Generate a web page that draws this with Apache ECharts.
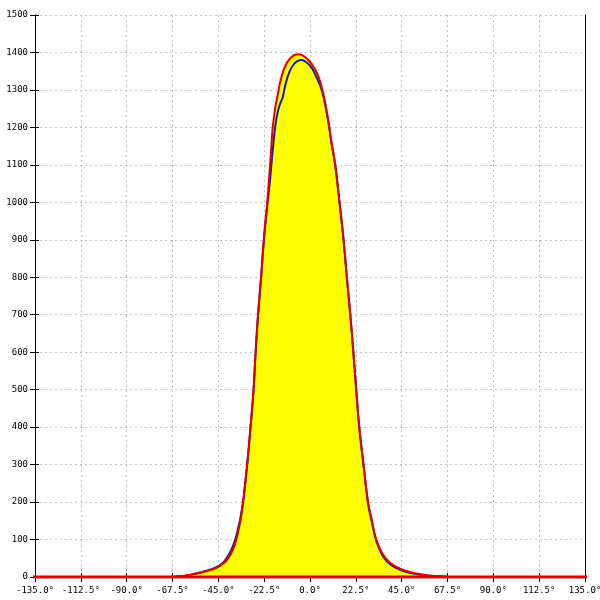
<!DOCTYPE html>
<html>
<head>
<meta charset="utf-8">
<script src="https://cdn.jsdelivr.net/npm/echarts@6/dist/echarts.min.js"></script>
<style>html,body{margin:0;padding:0;background:#fff}#c{width:600px;height:600px}</style>
</head>
<body>
<div id="c"></div>
<script>
// Red curve (upper, with yellow fill under it)
var redDeg = [-152, -70, -66, -62, -58, -54, -50, -46, -43, -41, -39, -37, -35.5, -34, -32.8, -30.8, -29.2, -27.7, -26.7, -25.5, -24, -22.7, -21, -20, -19.2, -18.3, -17, -15.9, -14.6, -12.6, -9.8, -6, -2.7, 0.6, 3.8, 6.3, 8.8, 10.4, 12.4, 14.5, 16.5, 18.1, 19.8, 21.3, 22.7, 24.2, 26.3, 28.5, 30.4, 32.5, 35.5, 39.3, 44.2, 50.7, 57.3, 63.9, 68, 152];
var redVal = [0, 0, 1, 3, 7, 11, 17, 24, 34, 44, 60, 85, 115, 155, 200, 300, 400, 500, 600, 700, 800, 900, 1000, 1070, 1130, 1200, 1255, 1285, 1322, 1358, 1384, 1395, 1389, 1371, 1340, 1295, 1225, 1166, 1100, 1000, 900, 800, 700, 600, 500, 400, 300, 200, 150, 100, 63, 38, 22, 11, 5, 2, 0, 0];
// Blue curve
var blueDeg = [-70, -66, -62, -58, -54, -50, -46, -43, -41, -39, -37, -35.5, -34, -32.8, -30.8, -29.2, -27.7, -26.7, -25.5, -24, -22.7, -21, -19.6, -18.6, -17.1, -15.9, -14.5, -13.4, -12.1, -10.1, -7.6, -4.3, -0.2, 3.1, 6.0, 8.8, 10.4, 12.4, 14.5, 16.5, 18.1, 19.8, 21.3, 22.7, 24.2, 26.3, 28.5, 30.4, 32.5, 35.5, 39.3, 44.2, 50.7, 57.3, 63.9, 68];
var blueVal = [0, 1, 3, 7, 12, 18, 26, 37, 50, 68, 95, 125, 162, 205, 305, 400, 500, 600, 700, 800, 895, 990, 1060, 1122, 1200, 1240, 1265, 1280, 1313, 1348, 1371, 1380, 1366, 1335, 1295, 1220, 1163, 1098, 998, 898, 798, 698, 598, 498, 398, 297, 196, 146, 97, 58, 34, 19, 9, 4, 2, 0];
// Axis ticks
var xTicks = [-135, -112.5, -90, -67.5, -45, -22.5, 0, 22.5, 45, 67.5, 90, 112.5, 135];
var yTicks = [0, 100, 200, 300, 400, 500, 600, 700, 800, 900, 1000, 1100, 1200, 1300, 1400, 1500];

function pairs(xs, ys) { return xs.map(function (x, i) { return [x, ys[i]]; }); }

var font = { fontFamily: 'DejaVu Sans Mono', fontSize: 9, color: '#000' };
var gridLine = { show: true, lineStyle: { color: '#c0c0c0', type: [2, 3], width: 1 } };
var xMin = xTicks[0], xMax = xTicks[xTicks.length - 1], xStep = xTicks[1] - xTicks[0];
var yMin = yTicks[0], yMax = yTicks[yTicks.length - 1], yStep = yTicks[1] - yTicks[0];

var chart = echarts.init(document.getElementById('c'), null, { renderer: 'canvas' });
chart.setOption({
  animation: false,
  backgroundColor: '#fff',
  grid: { left: 35, right: 15, top: 15, bottom: 23, containLabel: false, outerBoundsMode: 'none' },
  xAxis: [{
    type: 'value', min: xMin, max: xMax, interval: xStep,
    axisLine: { show: true, onZero: false, lineStyle: { color: '#000', width: 1 } },
    axisTick: { show: true, length: 5, inside: false, lineStyle: { color: '#000' } },
    axisLabel: Object.assign({ margin: 9, showMinLabel: true, showMaxLabel: true, hideOverlap: false,
      formatter: function (v) { return v.toFixed(1) + '°'; } }, font),
    splitLine: gridLine
  }, {
    type: 'value', min: xMin, max: xMax, interval: xStep, position: 'bottom',
    axisLine: { show: false, onZero: false },
    axisTick: { show: true, length: 4, inside: true, lineStyle: { color: '#000' } },
    axisLabel: { show: false }, splitLine: { show: false }
  }],
  yAxis: [{
    type: 'value', min: yMin, max: yMax, interval: yStep,
    axisLine: { show: true, onZero: false, lineStyle: { color: '#000', width: 1 } },
    axisTick: { show: true, length: 5, inside: false, lineStyle: { color: '#000' } },
    axisLabel: Object.assign({ margin: 7, formatter: function (v) { return String(v); } }, font),
    splitLine: gridLine
  }, {
    type: 'value', min: yMin, max: yMax, interval: yStep, position: 'left', offset: 0,
    axisLine: { show: false, onZero: false },
    axisTick: { show: true, length: 4, inside: true, lineStyle: { color: '#000' } },
    axisLabel: { show: false }, splitLine: { show: false }
  }, {
    type: 'value', min: yMin, max: yMax, interval: yStep, position: 'right', offset: 0,
    axisLine: { show: true, onZero: false, lineStyle: { color: '#000', width: 1 } },
    axisTick: { show: false }, axisLabel: { show: false }, splitLine: { show: false }
  }],
  series: [{
    type: 'line', data: pairs(redDeg, redVal), smooth: 0.4, symbol: 'none', clip: false,
    lineStyle: { width: 0, opacity: 0 }, areaStyle: { color: '#ffff00', opacity: 1 }, z: 2
  }, {
    type: 'line', data: pairs(blueDeg, blueVal), smooth: 0.4, symbol: 'none',
    lineStyle: { color: '#1a1aa8', width: 2 }, z: 3
  }, {
    type: 'line', data: pairs(redDeg, redVal), smooth: 0.4, symbol: 'none', clip: false,
    lineStyle: { color: '#e00000', width: 2 }, z: 4
  }, {
    type: 'line', data: [[redDeg[0], 0], [-redDeg[0], 0]], symbol: 'none', clip: false,
    lineStyle: { color: '#e00000', width: 3 }, z: 5
  }]
});
</script>
</body>
</html>
